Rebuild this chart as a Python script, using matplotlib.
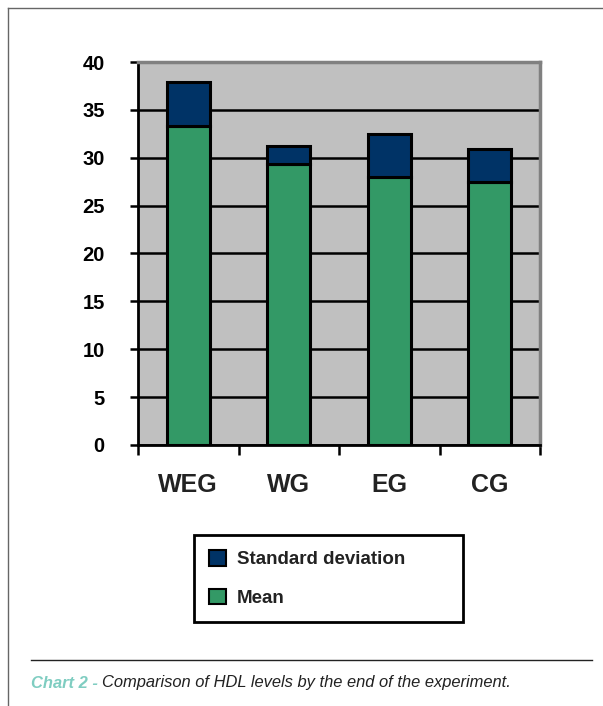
import matplotlib
matplotlib.use("Agg")
import matplotlib.pyplot as plt
from matplotlib.lines import Line2D
from matplotlib.patches import Patch
import numpy as np

groups = ["WEG", "WG", "EG", "CG"]
mean_vals = [33.3, 29.3, 28.0, 27.5]
sd_vals = [4.6, 1.9, 4.5, 3.4]
y_ticks = [0, 5, 10, 15, 20, 25, 30, 35, 40]

green = "#339966"
navy = "#003366"
plt.rcParams["font.family"] = ["Liberation Sans", "DejaVu Sans"]

fig = plt.figure(figsize=(6.03, 7.06), dpi=100)
ax = fig.add_axes([138 / 603, 1 - 445 / 706, 402 / 603, 383 / 706])
ax.set_facecolor("#c0c0c0")

x = np.arange(len(groups))
ax.bar(x, mean_vals, width=0.43, color=green, edgecolor="black", linewidth=2.2, zorder=3)
ax.bar(x, sd_vals, bottom=mean_vals, width=0.43, color=navy, edgecolor="black",
       linewidth=2.2, zorder=3)

ax.set_xlim(-0.5, len(groups) - 0.5)
ax.set_ylim(0, 40)
ax.set_axisbelow(True)
ax.yaxis.grid(True, color="black", linewidth=1.8)

ax.set_yticks(y_ticks)
ax.set_yticklabels([str(v) for v in y_ticks], fontsize=14.5, fontweight="bold")
ax.tick_params(axis="y", direction="out", length=6, width=1.8, pad=18)

ax.set_xticks(x)
ax.set_xticklabels(groups, fontsize=18, fontweight="bold", color="#222222")
ax.set_xticks(np.arange(-0.5, len(groups)), minor=True)
ax.tick_params(axis="x", which="major", length=0, pad=20)
ax.tick_params(axis="x", which="minor", direction="out", length=7, width=1.8)

for side in ("left", "bottom"):
    ax.spines[side].set_color("black")
    ax.spines[side].set_linewidth(2)
for side in ("top", "right"):
    ax.spines[side].set_color("#808080")
    ax.spines[side].set_linewidth(2.5)

handles = [Patch(facecolor=navy, edgecolor="black", linewidth=1.5),
           Patch(facecolor=green, edgecolor="black", linewidth=1.5)]
leg = fig.legend(handles, ["Standard deviation", "Mean"],
                 loc="upper left", bbox_to_anchor=(194 / 603, 1 - 535 / 706, 269 / 603, 0.0),
                 mode="expand", fancybox=False, edgecolor="black", framealpha=1,
                 prop={"size": 13.5, "weight": "bold"}, handlelength=0.9, handleheight=0.9,
                 handletextpad=0.6, labelspacing=1.1, borderpad=0.8, borderaxespad=0)
leg.get_frame().set_linewidth(2)
for t in leg.get_texts():
    t.set_color("#222222")

# outer frame of the page
fig.add_artist(Line2D([8 / 603, 8 / 603], [0, 1 - 8 / 706], color="#666666", linewidth=1))
fig.add_artist(Line2D([8 / 603, 1], [1 - 8 / 706, 1 - 8 / 706], color="#666666", linewidth=1))
# caption rule
fig.add_artist(Line2D([31 / 603, 592 / 603], [1 - 660 / 706, 1 - 660 / 706], color="#222222", linewidth=1))

cap1 = fig.text(31 / 603, 1 - 683 / 706, "Chart 2 - ", color="#7fcdc1", fontsize=11.9,
                fontweight="bold", fontstyle="italic", va="center")
ax.annotate("Comparison of HDL levels by the end of the experiment.", xy=(1, 0.5),
            xycoords=cap1, va="center", ha="left", fontsize=11.9, fontstyle="italic",
            color="#222222", annotation_clip=False)

fig.savefig("out.png", dpi=100)
